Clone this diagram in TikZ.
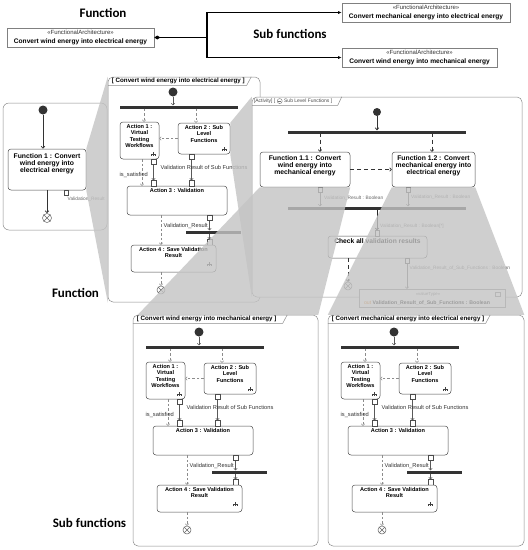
\documentclass[tikz,border=0pt]{standalone}
\usepackage{fontspec}
\setmainfont{Liberation Sans}
\newfontfamily\calib{Carlito}
\usetikzlibrary{arrows.meta,calc}
\newcommand\fsz[2]{\fontsize{#1}{#2}\selectfont}
\tikzset{
 frm/.style={draw=black!45, line width=0.5pt, rounded corners=5pt, fill=white, inner sep=0pt},
 tabline/.style={draw=black!45, line width=0.5pt},
 topbox/.style={draw=black!50, line width=0.6pt, fill=white, inner sep=0pt},
 actbox/.style={draw=black!70, line width=0.5pt, rounded corners=3pt, fill=white, inner sep=0pt},
 acttxt/.style={font=\bfseries\fsz{5.6}{6.4}, align=center, inner sep=0pt, anchor=north},
 lbl/.style={font=\fsz{5.7}{6.5}, text=black!80, inner sep=0pt, anchor=west},
 lblB/.style={font=\fsz{4.8}{5.5}, text=black!60, inner sep=0pt, anchor=west},
 tabtxt/.style={font=\bfseries\fsz{6.2}{7}, inner sep=0pt, anchor=west},
 title/.style={font=\calib\bfseries\fsz{13}{15}, inner sep=0pt},
 initnode/.style={circle, fill=black!80, minimum size=9pt, inner sep=0pt},
 barnode/.style={rectangle, fill=black!80, minimum height=3pt, inner sep=0pt},
 pinbox/.style={rectangle, draw=black!70, fill=white, line width=0.4pt, minimum width=4.5pt, minimum height=5.5pt, inner sep=0pt},
 ffinal/.style={circle, draw=black!60, fill=white, line width=0.5pt, minimum size=8pt, inner sep=0pt},
 ffx/.style={draw=black!60, line width=0.5pt},
 openhead/.style={-{Straight Barb[length=1.6pt,width=3.4pt]}},
 oflow/.style={draw=black!65, line width=0.5pt, openhead},
 boflow/.style={draw=black!60, line width=0.5pt, openhead},
 cflow/.style={draw=black!45, line width=0.5pt, dash pattern=on 2.5pt off 2pt, openhead},
 bdash/.style={draw=black!80, line width=0.7pt, dash pattern=on 4pt off 3pt, openhead},
 darkflow/.style={draw=black!80, line width=0.8pt, -{Straight Barb[length=2pt,width=3.8pt]}},
 assoc/.style={draw=black, line width=1.1pt, -{Latex[length=3.5pt,width=3pt]}},
 rakest/.style={draw=black!75, line width=0.45pt},
 zoomfill/.style={fill={rgb,255:red,196;green,196;blue,196}, fill opacity=0.8},
}
\newcommand\rakeicon[1]{\draw[rakest] (#1) ++(-1.8,2) -- ++(0,-2) -- ++(3.6,0) -- ++(0,2) (#1) ++(0,2) -- ++(0,-4.2);}
\newcommand\ffcross[1]{\draw[ffx] (#1.north west) -- (#1.south east) (#1.north east) -- (#1.south west);}
\newcommand\innerAct[2]{%
\begin{scope}[shift={(#2)}]
 \node[initnode] (#1i) at (66,17) {};
 \node[barnode, minimum width=118pt] (#1f) at (72,32) {};
 \draw[oflow] (#1i) -- (#1i |- #1f.north);
 \node[actbox, minimum width=39pt, minimum height=37pt] (#1a1) at (32.5,65.5) {};
 \node[acttxt] (#1a1t) at ([yshift=-2.5pt]#1a1.north) {Action 1 :\\Virtual\\Testing\\Workflows};
 \node[actbox, minimum width=52pt, minimum height=31pt] (#1a2) at (97,63.5) {};
 \node[acttxt] (#1a2t) at ([yshift=-2.5pt]#1a2.north) {Action 2 : Sub\\Level\\Functions};
 \coordinate (#1c1) at ([xshift=4.5pt]#1a1.north);
 \coordinate (#1c2) at ([xshift=-8pt]#1a2.north);
 \draw[cflow] (#1c1 |- #1f.south) -- (#1c1);
 \draw[cflow] (#1c2 |- #1f.south) -- (#1c2);
 \draw[cflow] (#1a2.west) -- (#1a2.west -| #1a1.east);
 \rakeicon{46.5,79}
 \rakeicon{117,74}
 \node[actbox, minimum width=100pt, minimum height=29pt] (#1a3) at (70,125.5) {};
 \node[acttxt] (#1a3t) at ([yshift=-2.5pt]#1a3.north) {Action 3 : Validation};
 \node[pinbox] (#1p1) at (46.5,86.75) {};
 \node[pinbox] (#1p2) at (84.5,81.75) {};
 \node[pinbox] (#1p3) at (46.5,108.25) {};
 \node[pinbox] (#1p4) at (84.5,108.25) {};
 \draw[oflow] (#1p1) -- (#1p3);
 \draw[oflow] (#1p2) -- (#1p4);
 \coordinate (#1c4) at ([xshift=2.5pt]#1a1.south);
 \draw[cflow] (#1c4) -- (#1c4 |- #1a3.north);
 \node[lbl] (#1l1) at (53.5,92) {Validation Result of Sub Functions};
 \node[lbl] (#1l2) at (12.5,100) {is\_satisfied};
 \node[pinbox] (#1p5) at (102.5,142.75) {};
 \node[barnode, minimum width=55pt] (#1b) at (106.5,157) {};
 \draw[oflow] (#1p5) -- (#1p5 |- #1b.north);
 \node[pinbox] (#1p6) at (102.5,167.25) {};
 \draw[oflow] (#1p6 |- #1b.south) -- (#1p6);
 \node[lbl] (#1l3) at (56.5,151) {Validation\_Result};
 \node[actbox, minimum width=85pt, minimum height=27pt] (#1a4) at (66.5,183.5) {};
 \node[acttxt] (#1a4t) at ([yshift=-2.5pt]#1a4.north) {Action 4 : Save Validation\\Result};
 \rakeicon{102,189}
 \coordinate (#1c3) at ([xshift=-16pt]#1a3.south);
 \draw[cflow] (#1c3) -- (#1c3 |- #1a4.north);
 \node[ffinal] (#1e) at (54,215) {};
 \ffcross{#1e}
 \draw[cflow] (#1e |- #1a4.south) -- (#1e);
\end{scope}}
\newcommand\paneltab[4]{% frame, tab length, text, name
 \draw[tabline] ([yshift=-8.5pt]#1.north west) -- ++(#2pt,0pt) -- ++(4.5pt,8.5pt);
 \node[tabtxt] (#4) at ([xshift=4pt,yshift=-4.4pt]#1.north west) {#3};
}
\begin{document}
\begin{tikzpicture}[x=1pt,y=-1pt]
\useasboundingbox (0,0) rectangle (528,550);
\fill[white] (0,0) rectangle (528,550);

% ---------- top block diagram ----------
\node[title] (t1) at (103,13) {Function};
\node[title] (t2) at (290,34) {Sub functions};
\node[topbox, minimum width=147pt, minimum height=19pt] (L) at (80.5,37.5) {};
\node[font=\fsz{6}{7}, text=black!80, inner sep=0pt] (Ls) at ([yshift=-5pt]L.north) {«FunctionalArchitecture»};
\node[font=\bfseries\fsz{6.6}{8}, inner sep=0pt] (Ln) at ([yshift=5pt]L.south) {Convert wind energy into electrical energy};
\node[topbox, minimum width=168pt, minimum height=19pt] (TR) at (426,12.5) {};
\node[font=\fsz{6}{7}, text=black!80, inner sep=0pt] (TRs) at ([yshift=-5pt]TR.north) {«FunctionalArchitecture»};
\node[font=\bfseries\fsz{6.6}{8}, inner sep=0pt] (TRn) at ([yshift=5pt]TR.south) {Convert mechanical energy into electrical energy};
\node[topbox, minimum width=155pt, minimum height=19pt] (BR) at (419.5,57.5) {};
\node[font=\fsz{6}{7}, text=black!80, inner sep=0pt] (BRs) at ([yshift=-5pt]BR.north) {«FunctionalArchitecture»};
\node[font=\bfseries\fsz{6.6}{8}, inner sep=0pt] (BRn) at ([yshift=5pt]BR.south) {Convert wind energy into mechanical energy};
\coordinate (J) at (207,37.5);
\draw[line width=1.8pt, {Diamond[length=6pt,width=4pt]}-] (L.east) -- (J);
\draw[assoc] (J) |- (TR.west);
\draw[assoc] (J) |- (BR.west);

% ---------- Function panel ----------
\node[frm, rounded corners=6pt, minimum width=104pt, minimum height=127pt] (FF) at (55,166.5) {};
\node[initnode] (Fi) at (43,110) {};
\node[actbox, minimum width=78pt, minimum height=41pt] (F1) at (47,169.5) {};
\node[acttxt, font=\bfseries\fsz{6.8}{7.1}] (F1t) at ([yshift=-4.5pt]F1.north) {Function 1 : Convert\\wind energy into\\electrical energy};
\draw[darkflow] (Fi) -- (Fi |- F1.north);
\node[pinbox, minimum width=4pt, minimum height=5pt] (Fp) at (66,192.5) {};
\node[lblB] (Fl) at (67.5,199) {Validation\_Result};
\node[ffinal, minimum size=9pt] (Fe) at (47,218) {};
\ffcross{Fe}
\draw[darkflow] (F1.south) -- (Fe);

% ---------- Panel A ----------
\node[frm, minimum width=152pt, minimum height=225pt] (FA) at (184,189.5) {};
\paneltab{FA}{139}{[ Convert wind energy into electrical energy ]}{FAt}
\innerAct{A}{107,75}

% ---------- Panel B ----------
\node[frm, minimum width=270pt, minimum height=200pt] (FB) at (387,197) {};
\draw[tabline] ([yshift=-8.5pt]FB.north west) -- ++(86pt,0pt) -- ++(4pt,8.5pt);
\node[font=\fsz{5}{6}, text=black!70, inner sep=0pt, anchor=west] (Bh1) at ([xshift=2pt,yshift=-4.3pt]FB.north west) {[Activity] [};
\node[circle, draw=black!55, line width=0.4pt, minimum size=5pt, inner sep=0pt, anchor=west] (Bh2) at ([xshift=1.5pt]Bh1.east) {};
\draw[draw=black!55, line width=0.35pt] ([xshift=-1.3pt]Bh2.center) -- ([xshift=1.3pt]Bh2.center);
\node[font=\fsz{5}{6}, text=black!70, inner sep=0pt, anchor=west] (Bh3) at ([xshift=1.5pt]Bh2.east) {Sub Level Functions ]};
\node[initnode, minimum size=8pt] (Bi) at (377,112) {};
\node[barnode, minimum width=178pt] (Bf) at (377,132) {};
\draw[darkflow] (Bi) -- (Bi |- Bf.north);
\node[actbox, minimum width=90pt, minimum height=35pt] (B11) at (305,169.5) {};
\node[acttxt, font=\bfseries\fsz{6.8}{7.2}] (B11t) at ([yshift=-3.5pt]B11.north) {Function 1.1 : Convert\\wind energy into\\mechanical energy};
\node[actbox, minimum width=83pt, minimum height=35pt] (B12) at (433.5,169.5) {};
\node[acttxt, font=\bfseries\fsz{6.8}{7.2}] (B12t) at ([yshift=-3.5pt]B12.north) {Function 1.2 : Convert\\mechanical energy into\\electrical energy};
\coordinate (Bc1) at ([xshift=15pt]B11.north);
\coordinate (Bc2) at ([xshift=-1.5pt]B12.north);
\draw[bdash, dash phase=1pt] (Bc1 |- Bf.south) -- (Bc1);
\draw[bdash, dash phase=1pt] (Bc2 |- Bf.south) -- (Bc2);
\draw[bdash] (B11.east) -- (B12.west);
\node[pinbox] (Bp1) at (320,189.75) {};
\node[pinbox] (Bp2) at (408,189.75) {};
\node[barnode, minimum width=178pt] (Bj) at (377,208) {};
\draw[boflow] (Bp1) -- (Bp1 |- Bj.north);
\draw[boflow] (Bp2) -- (Bp2 |- Bj.north);
\node[lblB] (Bl1) at (324,198) {Validation\_Result : Boolean};
\node[lblB] (Bl2) at (411,197) {Validation\_Result : Boolean};
\node[actbox, minimum width=99pt, minimum height=22pt] (Bck) at (377.5,247) {};
\node[acttxt, font=\bfseries\fsz{6.7}{7.5}] (Bckt) at ([yshift=-2.8pt]Bck.north) {Check all validation results};
\node[pinbox] (Bp3) at (377,233.25) {};
\draw[boflow, draw=black!85, line width=0.9pt] (Bp3 |- Bj.south) -- (Bp3);
\node[lblB] (Bl3) at (380,226) {Validation\_Result : Boolean[*]};
\node[pinbox] (Bp4) at (407,260.75) {};
\node[topbox, draw=black!45, line width=0.5pt, minimum width=146pt, minimum height=18pt] (Bvt) at (432,298) {};
\draw[boflow] (Bp4) -- (Bp4 |- Bvt.north);
\node[lblB] (Bl4) at (409.5,268) {Validation\_Result\_of\_Sub\_Functions : Boolean};
\node[ffinal] (Be) at (348,286) {};
\ffcross{Be}
\draw[bdash] (Be |- Bck.south) -- (Be);
\node[font=\fsz{4.3}{5}, text=black!60, inner sep=0pt] (Bvts) at (428,294.5) {«valueType»};
\node[font=\bfseries\fsz{5.2}{6}, inner sep=0pt] (Bvtn) at (427,302.5) {\textcolor{orange!85!black}{\mdseries out} Validation\_Result\_of\_Sub\_Functions : Boolean};
\node[draw=black!50, line width=0.4pt, minimum width=5pt, minimum height=4pt, inner sep=0pt] (Bvti) at (498,294.5) {};

% ---------- Panel C ----------
\node[frm, minimum width=185pt, minimum height=231pt] (FC) at (225.5,430.5) {};
\paneltab{FC}{150}{[ Convert wind energy into mechanical energy ]}{FCt}
\innerAct{C}{133,315}

% ---------- Panel D ----------
\node[frm, minimum width=196pt, minimum height=231pt] (FD) at (426,430.5) {};
\paneltab{FD}{158}{[ Convert mechanical energy into electrical energy ]}{FDt}
\innerAct{D}{328,315}

% ---------- zoom projections ----------
\fill[zoomfill] (F1.north east) -- (FA.north west) -- (FA.south west) -- (F1.south east) -- cycle;
\fill[zoomfill] (Aa2.north east) -- (FB.north west) -- (FB.south west) -- (Aa2.south east) -- cycle;
\fill[zoomfill] (B11.south west) -- (B11.south east) -- (FC.north east) -- ([xshift=5pt]FC.north west) -- cycle;
\fill[zoomfill] (B12.south west) -- (B12.south east) -- (FD.north east) -- (FD.north west) -- cycle;

% ---------- section titles ----------
\node[title] (t3) at (75.5,293) {Function};
\node[title] (t4) at (89.5,523) {Sub functions};
\end{tikzpicture}
\end{document}
